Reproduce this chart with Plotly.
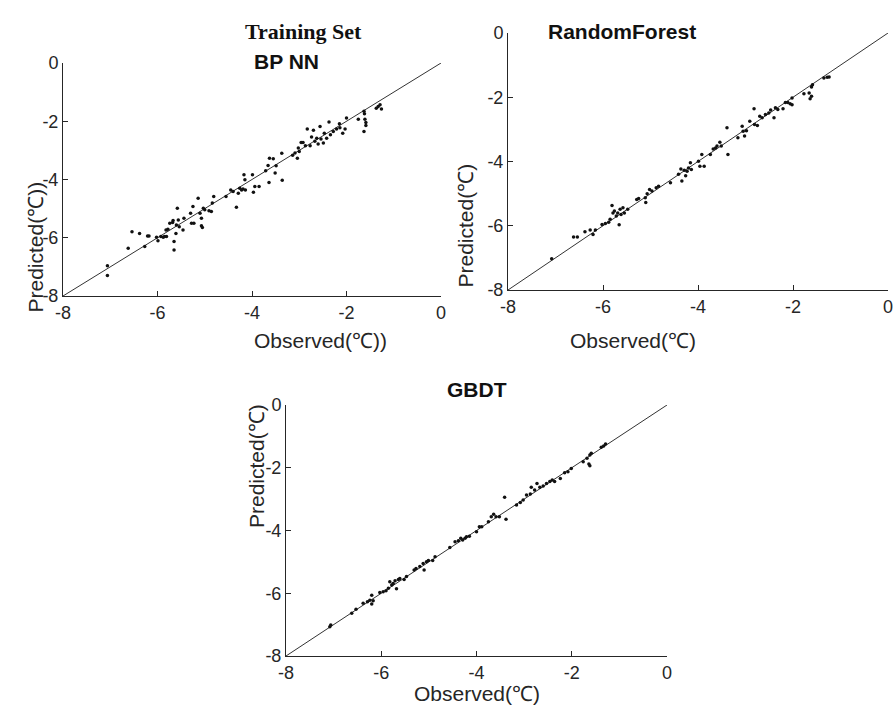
import plotly.graph_objects as go

# ---------------- data ----------------
bp_obs = [-7.06,-7.06,-6.62,-6.54,-6.38,-6.27,-6.21,-6.18,-6.02,-5.99,-5.93,-5.88,-5.85,-5.81,-5.82,-5.78,
          -5.74,-5.68,-5.67,-5.65,-5.65,-5.61,-5.60,-5.58,-5.56,-5.54,-5.46,-5.44,-5.30,-5.28,-5.25,-5.23,
          -5.14,-5.10,-5.07,-5.07,-5.05,-5.03,-5.00,-4.91,-4.86,-4.84,-4.81,-4.55,-4.45,-4.40,-4.33,-4.29,
          -4.26,-4.22,-4.19,-4.17,-4.15,-4.14,-3.99,-3.97,-3.94,-3.85,-3.71,-3.66,-3.63,-3.64,-3.55,-3.51,
          -3.49,-3.37,-3.36,-3.14,-3.09,-3.04,-3.02,-3.00,-2.96,-2.92,-2.87,-2.83,-2.77,-2.74,-2.70,-2.67,
          -2.63,-2.60,-2.56,-2.54,-2.49,-2.47,-2.42,-2.37,-2.34,-2.28,-2.21,-2.15,-2.14,-2.08,-2.03,-2.00,
          -1.75,-1.63,-1.62,-1.61,-1.63,-1.59,-1.59,-1.33,-1.29,-1.26,-1.37]
bp_pred = [-6.96,-7.30,-6.36,-5.79,-5.85,-6.30,-5.94,-5.94,-5.98,-6.10,-5.96,-5.98,-5.96,-5.96,-5.73,-5.71,
           -5.50,-5.48,-5.41,-6.13,-6.42,-5.85,-5.56,-4.99,-5.39,-5.62,-5.73,-5.33,-5.16,-5.50,-4.93,-5.50,
           -4.64,-5.16,-5.33,-5.59,-5.65,-4.99,-5.04,-5.07,-5.10,-4.81,-4.58,-4.58,-4.36,-4.41,-4.95,-4.47,
           -4.30,-4.36,-4.33,-3.84,-4.01,-4.36,-3.84,-4.44,-4.24,-4.24,-3.70,-3.52,-3.27,-4.10,-3.29,-3.78,
           -3.53,-3.10,-4.03,-3.17,-3.09,-3.27,-2.92,-3.04,-2.73,-2.73,-2.84,-2.27,-2.84,-2.54,-2.31,-2.69,
           -2.58,-2.78,-2.18,-2.61,-2.75,-2.41,-2.58,-2.03,-2.46,-2.35,-2.27,-2.09,-2.22,-2.41,-2.27,-1.89,
           -1.93,-1.66,-1.74,-1.93,-2.35,-2.04,-2.15,-1.49,-1.43,-1.58,-1.55]

rf_obs = [-7.08,-6.62,-6.54,-6.38,-6.27,-6.21,-6.16,-6.02,-5.95,-5.88,-5.85,-5.81,-5.79,-5.76,-5.72,-5.69,
          -5.66,-5.64,-5.62,-5.58,-5.55,-5.48,-5.29,-5.25,-5.11,-5.10,-5.07,-5.02,-4.97,-4.88,-4.83,-4.58,
          -4.41,-4.36,-4.34,-4.29,-4.26,-4.23,-4.20,-4.16,-4.14,-3.99,-3.96,-3.92,-3.87,-3.74,-3.68,-3.63,
          -3.60,-3.54,-3.51,-3.39,-3.37,-3.16,-3.07,-3.05,-3.02,-2.98,-2.91,-2.82,-2.81,-2.75,-2.70,-2.65,
          -2.58,-2.51,-2.47,-2.40,-2.37,-2.32,-2.21,-2.16,-2.11,-2.06,-2.02,-2.02,-1.77,-1.66,-1.64,-1.61,
          -1.61,-1.59,-1.35,-1.28,-1.24]
rf_pred = [-7.03,-6.35,-6.35,-6.19,-6.13,-6.27,-6.13,-5.96,-5.93,-5.89,-5.80,-5.37,-5.60,-5.54,-5.70,-5.60,
           -5.97,-5.49,-5.65,-5.44,-5.60,-5.49,-5.18,-5.15,-5.13,-5.28,-5.00,-4.87,-4.92,-4.82,-4.77,-4.66,
           -4.40,-4.23,-4.61,-4.27,-4.44,-4.30,-4.20,-4.04,-4.25,-3.99,-4.15,-3.78,-4.15,-3.78,-3.61,-3.58,
           -3.52,-3.40,-3.52,-2.95,-3.78,-3.26,-2.90,-3.06,-3.21,-3.04,-2.75,-2.36,-2.85,-2.88,-2.59,-2.64,
           -2.54,-2.49,-2.40,-2.64,-2.33,-2.38,-2.36,-2.16,-2.16,-2.20,-2.02,-2.23,-1.89,-1.87,-2.05,-1.97,
           -1.68,-1.61,-1.40,-1.38,-1.37]

gb_obs = [-7.08,-7.06,-6.62,-6.53,-6.38,-6.29,-6.24,-6.20,-6.20,-6.17,-6.03,-5.96,-5.90,-5.85,-5.82,-5.78,
          -5.75,-5.71,-5.68,-5.64,-5.61,-5.52,-5.47,-5.31,-5.27,-5.19,-5.12,-5.10,-5.05,-5.01,-4.92,-4.87,
          -4.56,-4.45,-4.38,-4.33,-4.29,-4.24,-4.21,-4.15,-4.00,-3.94,-3.89,-3.75,-3.69,-3.64,-3.59,-3.52,
          -3.41,-3.38,-3.16,-3.08,-3.02,-2.95,-2.87,-2.85,-2.78,-2.73,-2.67,-2.60,-2.53,-2.46,-2.41,-2.36,
          -2.24,-2.15,-2.08,-2.01,-1.76,-1.68,-1.64,-1.62,-1.62,-1.59,-1.38,-1.33,-1.29]
gb_pred = [-7.07,-7.01,-6.64,-6.51,-6.32,-6.27,-6.22,-6.06,-6.34,-6.24,-5.98,-5.95,-5.92,-5.84,-5.63,-5.74,
           -5.69,-5.60,-5.86,-5.56,-5.53,-5.56,-5.47,-5.26,-5.21,-5.15,-5.05,-5.26,-5.00,-4.96,-4.96,-4.84,
           -4.54,-4.36,-4.33,-4.25,-4.30,-4.25,-4.20,-4.18,-4.04,-3.88,-3.88,-3.72,-3.56,-3.48,-3.56,-3.56,
           -2.94,-3.64,-3.19,-3.11,-3.03,-2.87,-2.84,-2.62,-2.71,-2.50,-2.62,-2.58,-2.50,-2.44,-2.39,-2.44,
           -2.34,-2.16,-2.13,-2.02,-1.81,-1.70,-1.88,-1.94,-1.59,-1.54,-1.35,-1.31,-1.24]

ref_line = [-8, 0]
tick_vals = [-8, -6, -4, -2, 0]
tick_text = ["-8", "-6", "-4", "-2", "0"]

panels = [
    dict(name="BP NN", obs=bp_obs, pred=bp_pred, xl="Observed(℃))", yl="Predicted(℃))"),
    dict(name="RandomForest", obs=rf_obs, pred=rf_pred, xl="Observed(℃)", yl="Predicted(℃)"),
    dict(name="GBDT", obs=gb_obs, pred=gb_pred, xl="Observed(℃)", yl="Predicted(℃)"),
]

W, H = 894, 719
# pixel boxes (left, right, top, bottom) and label offsets (x-title below, y-title left)
boxes = [(63, 441, 63, 296), (508, 888, 33, 290), (286, 667, 405, 656)]
xtitle_off = [44, 50, 51]
ytitle_off = [42, 43, 43]

fig = go.Figure()
FONT = "Liberation Sans, Arial, sans-serif"
INK = "#262626"

for i, (p, b) in enumerate(zip(panels, boxes)):
    k = "" if i == 0 else str(i + 1)
    xa, ya = "x" + k, "y" + k
    fig.add_trace(go.Scatter(x=ref_line, y=ref_line, mode="lines",
                             line=dict(color="#333333", width=1), xaxis=xa, yaxis=ya,
                             showlegend=False, hoverinfo="skip", cliponaxis=False))
    fig.add_trace(go.Scatter(x=p["obs"], y=p["pred"], mode="markers",
                             marker=dict(color="#111111", size=3.5), xaxis=xa, yaxis=ya,
                             showlegend=False))
    l, r, t, bt = b
    axcommon = dict(range=[-8, 0], tickvals=tick_vals, ticktext=tick_text, ticks="inside",
                    ticklen=5, tickcolor=INK, showline=True, linecolor=INK, linewidth=1,
                    showgrid=False, zeroline=False, mirror=False, automargin=False,
                    tickfont=dict(family=FONT, size=18, color=INK))
    fig.layout["xaxis" + k] = dict(domain=[l / W, r / W], anchor=ya, **axcommon)
    fig.layout["yaxis" + k] = dict(domain=[1 - bt / H, 1 - t / H], anchor=xa, **axcommon)
    cx = (l + r) / 2
    cy = (t + bt) / 2
    # titles
    fig.add_annotation(x=cx / W, y=1 - (t - 15) / H, xref="paper", yref="paper",
                       text="<b>%s</b>" % p["name"], showarrow=False,
                       font=dict(family=FONT, size=21, color="#111111"))
    fig.add_annotation(x=cx / W, y=1 - (bt + xtitle_off[i]) / H, xref="paper", yref="paper",
                       text=p["xl"], showarrow=False,
                       font=dict(family=FONT, size=21, color=INK))
    fig.add_annotation(x=(l - ytitle_off[i]) / W, y=1 - cy / H, xref="paper", yref="paper",
                       text=p["yl"], showarrow=False, textangle=-90,
                       font=dict(family=FONT, size=21, color=INK))

fig.add_annotation(x=243 / W, y=1 - 17 / H, xref="paper", yref="paper",
                   text="<b>Training Set</b>", showarrow=False,
                   font=dict(family="Liberation Serif, Times New Roman, serif", size=22, color="#111111"))

fig.update_layout(width=W, height=H, margin=dict(l=0, r=0, t=0, b=0),
                  plot_bgcolor="white", paper_bgcolor="white")
fig.write_html("out.html", config={"displayModeBar": False},
               post_script="document.body.style.margin='0';document.body.style.overflow='hidden';")
